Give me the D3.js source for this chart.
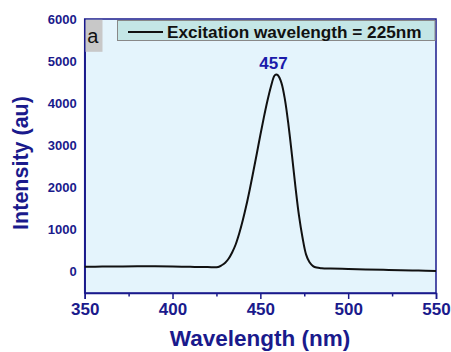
<!DOCTYPE html>
<html><head><meta charset="utf-8">
<script src="https://cdn.jsdelivr.net/npm/d3@7"></script>
<style>body{margin:0;background:#fff}text{font-family:"Liberation Sans",Arial,sans-serif}</style>
</head><body><svg id="c" width="451" height="352"></svg>
<script>
const wavelength = [350,360,370,380,390,400,410,420,426,428,430,432,434,436,438,440,442,444,446,448,450,452,454,456,458,459,460,462,464,466,468,470,472,474,476,478,480,482,485,490,500,510,520,530,540,550];
const intensity  = [105,108,112,115,115,110,102,96,100,140,200,300,450,640,900,1210,1560,1950,2370,2800,3240,3660,4050,4390,4650,4680,4660,4480,4080,3480,2760,2000,1320,800,400,210,120,85,70,62,52,42,32,22,14,6];
const xTicks = [350,400,450,500,550];
const yTicks = [0,1000,2000,3000,4000,5000,6000];
const peakLabel = "457", peakX = 457.5, peakY = 4680;
const legendText = "Excitation wavelength = 225nm";

const svg = d3.select("#c");
const L=84.7, R=436, T=19, B=293;
const x = d3.scaleLinear().domain([350,550]).range([L,R]);
const y = d3.scaleLinear().domain([-520,6000]).range([B,T]);
const navy="#1a1a8c";

svg.append("rect").attr("x",L).attr("y",T).attr("width",R-L).attr("height",B-T).attr("fill","#e4f4fc");

const xa = svg.append("g").attr("transform",`translate(0,${B})`)
  .call(d3.axisBottom(x).tickValues(xTicks).tickSize(6).tickPadding(4).tickFormat(d3.format("d")));
svg.append("g").attr("transform",`translate(0,${B})`)
  .call(d3.axisBottom(x).tickValues([375,425,475,525]).tickSize(3.5).tickFormat(""))
  .call(g=>g.select(".domain").remove());
const ya = svg.append("g").attr("transform",`translate(${L},0)`)
  .call(d3.axisLeft(y).tickValues(yTicks).tickSize(0).tickPadding(8).tickFormat(d3.format("d")));
svg.selectAll(".tick line").attr("stroke",navy).attr("stroke-width",1.5);
svg.selectAll(".domain").attr("stroke",navy).attr("stroke-width",1.5);
svg.selectAll(".tick text").attr("fill",navy).attr("font-weight","bold").attr("font-size",13)
   .style("font-family","'Liberation Sans',Arial,sans-serif");
xa.selectAll(".tick text").attr("font-size",17);

svg.append("rect").attr("x",L).attr("y",T).attr("width",R-L).attr("height",B-T)
  .attr("fill","none").attr("stroke",navy).attr("stroke-width",1.5);

svg.append("path").datum(wavelength.map((w,i)=>[w,intensity[i]]))
  .attr("d",d3.line().x(d=>x(d[0])).y(d=>y(d[1])).curve(d3.curveCatmullRom))
  .attr("fill","none").attr("stroke","#111").attr("stroke-width",2);

svg.append("text").attr("x",x(peakX)).attr("y",y(peakY)-5).attr("text-anchor","middle")
  .attr("fill","#1a1aaa").attr("font-weight","bold").attr("font-size",17).text(peakLabel);

svg.append("rect").attr("x",L+0.8).attr("y",T+0.8).attr("width",17).attr("height",32).attr("fill","#c8c8c8");
svg.append("text").attr("x",L+2.5).attr("y",T+24).attr("font-size",20).attr("fill","#111").text("a");

svg.append("rect").attr("x",117.5).attr("y",T+1.5).attr("width",R-117.5-1).attr("height",20)
  .attr("fill","#c4e6e6").attr("stroke","#888").attr("stroke-width",1);
svg.append("line").attr("x1",128).attr("x2",163).attr("y1",32).attr("y2",32).attr("stroke","#111").attr("stroke-width",2);
svg.append("text").attr("x",167).attr("y",38).attr("font-size",17.2).attr("font-weight","bold").attr("fill","#111").text(legendText);

svg.append("text").attr("x",260).attr("y",346).attr("text-anchor","middle")
  .attr("font-size",22.5).attr("font-weight","bold").attr("fill",navy).text("Wavelength (nm)");
svg.append("text").attr("transform","translate(28,163) rotate(-90)").attr("text-anchor","middle")
  .attr("font-size",21.5).attr("font-weight","bold").attr("fill",navy).text("Intensity (au)");
</script></body></html>
